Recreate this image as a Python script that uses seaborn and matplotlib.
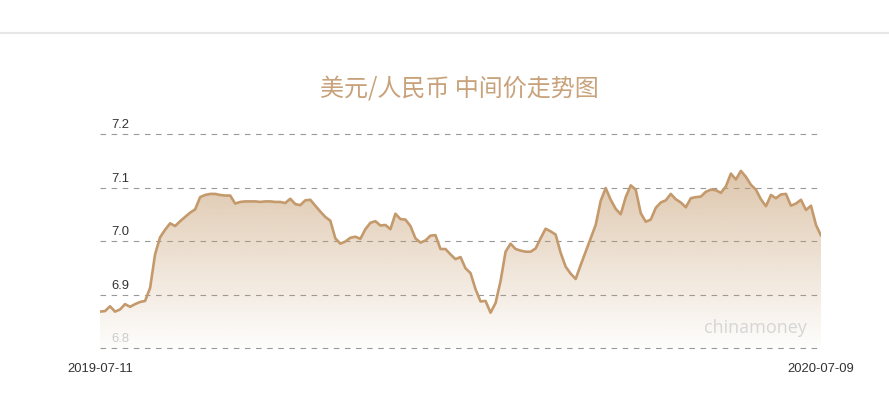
import matplotlib.pyplot as plt
import matplotlib.lines as mlines
import seaborn as sns
import numpy as np
import pandas as pd

# USD/CNY central parity (evenly spaced samples)
rates = [
    6.868, 6.869, 6.878, 6.868, 6.872, 6.882, 6.877, 6.882, 6.886, 6.888,
    6.912, 6.975, 7.007, 7.021, 7.033, 7.028, 7.037, 7.045, 7.053, 7.059,
    7.082, 7.086, 7.088, 7.088, 7.086, 7.085, 7.085, 7.070, 7.073, 7.074,
    7.074, 7.074, 7.073, 7.074, 7.074, 7.073, 7.073, 7.071, 7.079, 7.069,
    7.067, 7.076, 7.077, 7.066, 7.055, 7.045, 7.038, 7.005, 6.995, 6.999,
    7.006, 7.008, 7.004, 7.022, 7.034, 7.037, 7.029, 7.030, 7.022, 7.051,
    7.041, 7.040, 7.028, 7.005, 6.997, 7.001, 7.010, 7.011, 6.985, 6.985,
    6.975, 6.966, 6.970, 6.949, 6.940, 6.910, 6.887, 6.888, 6.866, 6.884,
    6.925, 6.980, 6.995, 6.985, 6.982, 6.980, 6.980, 6.986, 7.005, 7.023,
    7.018, 7.012, 6.978, 6.952, 6.939, 6.929, 6.955, 6.980, 7.005, 7.030,
    7.075, 7.099, 7.077, 7.060, 7.050, 7.082, 7.104, 7.096, 7.052, 7.036,
    7.040, 7.062, 7.072, 7.076, 7.088, 7.078, 7.072, 7.063, 7.080, 7.082,
    7.083, 7.092, 7.096, 7.095, 7.090, 7.102, 7.126, 7.115, 7.131, 7.120,
    7.105, 7.096, 7.078, 7.065, 7.086, 7.080, 7.087, 7.088, 7.066, 7.070,
    7.077, 7.058, 7.066, 7.030, 7.010,
]
start_label = "2019-07-11"
end_label = "2020-07-09"
y_ticks = [6.8, 6.9, 7.0, 7.1, 7.2]
title = "美元/人民币 中间价走势图"

df = pd.DataFrame({"idx": np.arange(len(rates)), "rate": rates})

sns.set_style("white")
plt.rcParams["font.family"] = ["Liberation Sans", "Noto Sans CJK SC", "DejaVu Sans"]
plt.rcParams["lines.scale_dashes"] = False

line_color = "#c49a6c"
fig = plt.figure(figsize=(8.89, 4.01), dpi=100)
# a couple of pixels of margin so the 6.8 / 7.2 grid lines are not clipped
ax = fig.add_axes([100 / 889, 1 - 350 / 401, 721 / 889, 218 / 401])
pad = 0.4 / 214 * 2
ylo, yhi = y_ticks[0] - pad, y_ticks[-1] + pad

# dashed horizontal grid
ax.set_yticks(y_ticks)
ax.yaxis.grid(True, color="#999999", linewidth=0.8, linestyle=(0, (4, 4)))
ax.xaxis.grid(False)
ax.set_axisbelow(True)
for s in ax.spines.values():
    s.set_visible(False)

# gradient area under the line
poly = ax.fill_between(df["idx"], df["rate"], y_ticks[0], color="none", lw=0)
grad = np.zeros((256, 1, 4))
r, g, b = [int(line_color[i:i + 2], 16) / 255 for i in (1, 3, 5)]
grad[..., 0], grad[..., 1], grad[..., 2] = r, g, b
grad[:, 0, 3] = np.linspace(0.02, 0.56, 256)
im = ax.imshow(grad, extent=[0, len(rates) - 1, y_ticks[0], max(rates)],
               origin="lower", aspect="auto", zorder=1, interpolation="bilinear")
im.set_clip_path(poly.get_paths()[0], transform=ax.transData)

sns.lineplot(data=df, x="idx", y="rate", ax=ax, color=line_color,
             linewidth=1.9, zorder=3)
ax.set_xlim(0, len(rates) - 1)
ax.set_ylim(ylo, yhi)

# y labels sit above their grid line
ax.set_yticklabels([])
ax.tick_params(axis="y", length=0)
for t in y_ticks:
    ax.text(0.016, t + 0.0055, f"{t:.1f}", transform=ax.get_yaxis_transform(),
            ha="left", va="bottom", fontsize=9.4,
            color="#cccccc" if t == y_ticks[0] else "#333333", zorder=4)

ax.set_xticks([0, len(rates) - 1])
ax.set_xticklabels([start_label, end_label], fontsize=9.4, color="#333333")
ax.tick_params(axis="x", length=0, pad=9)
ax.set_xlabel("")
ax.set_ylabel("")

ax.text(0.981, 0.08, "chinamoney", transform=ax.transAxes, ha="right",
        va="baseline", fontsize=13, color="#d6d6d6", family=["Open Sans"], zorder=4)

fig.text(459 / 889, 1 - 89 / 401, title, ha="center", va="center",
         fontsize=17.3, color="#c8a27a", family=["Noto Sans CJK SC", "DejaVu Sans"])

fig.add_artist(mlines.Line2D([0, 1], [1 - 33 / 401] * 2, transform=fig.transFigure,
                             color="#e6e6e6", linewidth=1.5))

fig.savefig("out.png", dpi=100)
